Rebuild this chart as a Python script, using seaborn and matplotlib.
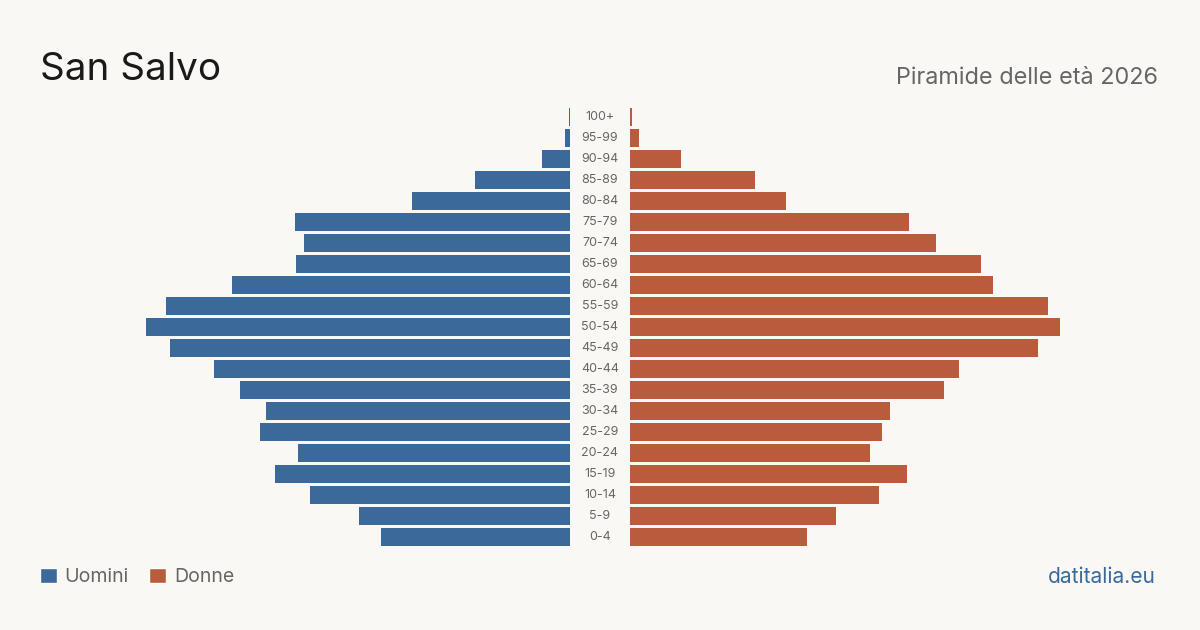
import matplotlib
matplotlib.use("Agg")
import matplotlib.pyplot as plt
import matplotlib.transforms as mtransforms
from matplotlib.patches import Patch
import pandas as pd
import seaborn as sns

# Piramide delle età - San Salvo 2026
eta = ['100+', '95-99', '90-94', '85-89', '80-84', '75-79', '70-74', '65-69',
       '60-64', '55-59', '50-54', '45-49', '40-44', '35-39', '30-34', '25-29',
       '20-24', '15-19', '10-14', '5-9', '0-4']
uomini = [2, 9, 52, 176, 292, 509, 492, 507, 625, 747, 784, 740, 659, 611,
          562, 574, 503, 546, 481, 390, 350]
donne = [3, 17, 94, 231, 289, 516, 566, 649, 672, 773, 796, 755, 609, 581,
         481, 466, 444, 512, 461, 381, 327]

BLU = '#3b6a9a'
ARANCIO = '#b95c3b'
SFONDO = '#f9f8f4'
GRIGIO = '#666666'

sns.set_style('white')
plt.rcParams['font.family'] = ['Inter', 'DejaVu Sans']

df = pd.DataFrame({'eta': eta, 'uomini': uomini, 'donne': donne})

W, H = 1200, 630
fig = plt.figure(figsize=(12, 6.3), dpi=100, facecolor=SFONDO)

xmax = 800
px_w = xmax / 1.85  # larghezza assi in pixel
y_top, y_bot = 106.5, 547.5
bottom = 1 - y_bot / H
height = (y_bot - y_top) / H

ax_l = fig.add_axes([(570 - px_w) / W, bottom, px_w / W, height])
ax_r = fig.add_axes([630 / W, bottom, px_w / W, height])

sns.barplot(data=df, x='uomini', y='eta', orient='h', color=BLU,
            width=0.81, saturation=1, linewidth=0, ax=ax_l)
sns.barplot(data=df, x='donne', y='eta', orient='h', color=ARANCIO,
            width=0.81, saturation=1, linewidth=0, ax=ax_r)

for ax in (ax_l, ax_r):
    ax.set_facecolor(SFONDO)
    ax.set_ylim(len(eta) - 0.5, -0.5)
    ax.set_xlabel('')
    ax.set_ylabel('')
    ax.set_xticks([])
    ax.set_yticks([])
    sns.despine(ax=ax, left=True, bottom=True)
ax_l.set_xlim(xmax, 0)
ax_r.set_xlim(0, xmax)

# etichette età al centro
trans = mtransforms.blended_transform_factory(fig.transFigure, ax_r.transData)
for i, lab in enumerate(eta):
    fig.text(600 / W, i, lab, transform=trans, ha='center', va='center',
             fontsize=9, color=GRIGIO)

fig.text(40 / W, 1 - 80 / H, 'San Salvo', fontsize=27.8, color='#1a1a1a',
         ha='left', va='baseline')
fig.text(1158 / W, 1 - 84 / H, 'Piramide delle età 2026', fontsize=16.9,
         color=GRIGIO, ha='right', va='baseline')
fig.text(1156 / W, 1 - 583 / H, 'datitalia.eu', fontsize=15.1, color=BLU,
         ha='right', va='baseline')

handles = [Patch(facecolor=BLU, label='Uomini'),
           Patch(facecolor=ARANCIO, label='Donne')]
fig.legend(handles=handles, loc='center left', bbox_to_anchor=(40 / W, 1 - 577 / H),
           ncol=2, frameon=False, fontsize=14.1, labelcolor=GRIGIO,
           handlelength=0.85, handleheight=0.85, handletextpad=0.4,
           columnspacing=1.05, borderpad=0, borderaxespad=0)

fig.savefig('out.png', dpi=100, facecolor=SFONDO)
